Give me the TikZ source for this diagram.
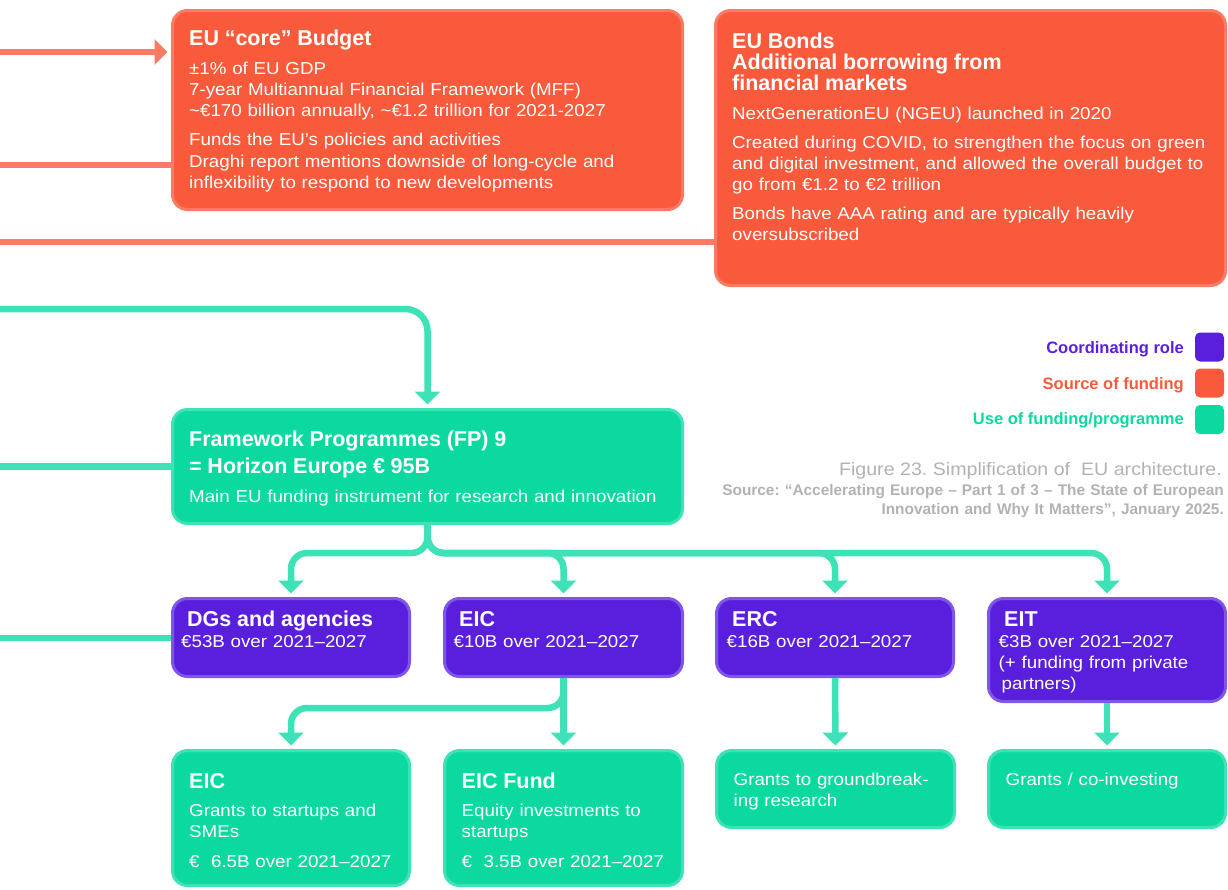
\documentclass[tikz,border=0pt]{standalone}
\usepackage{fontspec}
\setmainfont{Liberation Sans}
\newfontfamily\regfam{Liberation Sans}[FakeStretch=1.09]
\newfontfamily\boldfam{Liberation Sans}
\usetikzlibrary{arrows.meta}
\frenchspacing
\definecolor{orfill}{HTML}{F95A3B}
\definecolor{orline}{HTML}{FA7B63}
\definecolor{grfill}{HTML}{0CD9A0}
\definecolor{grline}{HTML}{3DE2B6}
\definecolor{pufill}{HTML}{5A1FDD}
\definecolor{puline}{HTML}{7F57E8}
\definecolor{capgray}{HTML}{B2B2B2}
\newcommand\boxbody{\regfam\fontsize{17.2}{21.2}\selectfont}
\newcommand\boxtitle{\boldfam\bfseries\fontsize{21.5}{21.2}\selectfont}
\begin{document}
\begin{tikzpicture}[x=1pt,y=-1pt,
  box/.style={rounded corners=15pt, line width=3pt, inner sep=0pt},
  obox/.style={box, fill=orfill, draw=orline},
  gbox/.style={box, fill=grfill, draw=grline},
  pbox/.style={box, fill=pufill, draw=puline},
  txt/.style={anchor=base west, inner sep=0pt, text width=520pt, align=left, text=white, font=\boxbody},
  oconn/.style={draw=orline, line width=6.5pt},
  gconn/.style={draw=grline, line width=6.5pt, rounded corners=16pt},
  arrowend/.style={-{Triangle[width=25pt,length=13pt]}, shorten >=3.5pt},
  swatch/.style={rounded corners=5pt, inner sep=0pt, minimum width=29pt, minimum height=29pt},
  legtxt/.style={anchor=base east, inner sep=0pt, font=\boldfam\bfseries\fontsize{16.5}{20}\selectfont}
]
\useasboundingbox (0,0) rectangle (1228,889);

% boxes
\node[obox, minimum width=510pt, minimum height=199pt] (core) at (427.5,110) {};
\node[obox, minimum width=510pt, minimum height=275pt] (bonds) at (970.5,148) {};
\node[gbox, minimum width=510pt, minimum height=114pt] (fp9) at (427.5,466.5) {};
\node[pbox, minimum width=237pt, minimum height=78pt] (dgs) at (291,637.5) {};
\node[pbox, minimum width=238pt, minimum height=78pt] (eic) at (563.5,637.5) {};
\node[pbox, minimum width=237pt, minimum height=78pt] (erc) at (835,637.5) {};
\node[pbox, minimum width=237pt, minimum height=103pt] (eit) at (1107,650) {};
\node[gbox, minimum width=237pt, minimum height=135pt] (eicb) at (291,818) {};
\node[gbox, minimum width=238pt, minimum height=135pt] (eicf) at (563.5,818) {};
\node[gbox, minimum width=238pt, minimum height=77pt] (ercb) at (835.5,789) {};
\node[gbox, minimum width=237pt, minimum height=77pt] (eitb) at (1107,789) {};

% texts
\node[txt] (coret) at (189,45) {{\boxtitle EU “core” Budget}\\[8.3pt]
±1\% of EU GDP\\
7-year Multiannual Financial Framework (MFF)\\
\textasciitilde€170 billion annually, \textasciitilde€1.2 trillion for 2021-2027\\[7.8pt]
Funds the EU’s policies and activities\\
Draghi report mentions downside of long-cycle and\\
inflexibility to respond to new developments};

\node[txt] (bondst) at (732,48) {{\boxtitle EU Bonds}\\
{\boxtitle Additional borrowing from}\\
{\boxtitle financial markets}\\[8.1pt]
NextGenerationEU (NGEU) launched in 2020\\[7.1pt]
Created during COVID, to strengthen the focus on green\\
and digital investment, and allowed the overall budget to\\
go from €1.2 to €2 trillion\\[7.6pt]
Bonds have AAA rating and are typically heavily\\
oversubscribed};

\node[txt] (fp9t) at (189,446.5) {{\boxtitle Framework Programmes (FP) 9}\\[6.1pt]
{\boxtitle = Horizon Europe € 95B}\\[7.5pt]
Main EU funding instrument for research and innovation};

\node[txt] (dgst) at (181,626) {\hspace*{6pt}{\boxtitle DGs and agencies}\\
€53B over 2021–2027};
\node[txt] (eict) at (453.5,626) {\hspace*{5.5pt}{\boxtitle EIC}\\
€10B over 2021–2027};
\node[txt] (erct) at (726.5,626) {\hspace*{5.5pt}{\boxtitle ERC}\\
€16B over 2021–2027};
\node[txt] (eitt) at (998.5,626) {\hspace*{5.5pt}{\boxtitle EIT}\\
€3B over 2021–2027\\
(+ funding from private\\
\hspace*{3pt}partners)};

\node[txt] (eicbt) at (189,788.3) {{\boxtitle EIC}\\[7.2pt]
Grants to startups and\\
SMEs\\[8.2pt]
€\ \ 6.5B over 2021–2027};
\node[txt] (eicft) at (461.5,788.3) {{\boxtitle EIC Fund}\\[7.2pt]
Equity investments to\\
startups\\[8.2pt]
€\ \ 3.5B over 2021–2027};
\node[txt] (ercbt) at (733.5,785) {Grants to groundbreak-\\
ing research};
\node[txt] (eitbt) at (1005.5,785) {Grants / co-investing};

% legend
\node[swatch, fill=pufill] (sw1) at (1209.5,347) {};
\node[swatch, fill=orfill] (sw2) at (1209.5,383) {};
\node[swatch, fill=grfill] (sw3) at (1209.5,419.5) {};
\node[legtxt, text=pufill] (lg1) at (1184,353.3) {Coordinating role};
\node[legtxt, text=orfill] (lg2) at (1184,389.3) {Source of funding};
\node[legtxt, text=grfill] (lg3) at (1184,424.5) {Use of funding/programme};

% caption
\node[anchor=base east, inner sep=0pt, text=capgray, font=\regfam\fontsize{18}{21}\selectfont] (cap) at (1222,475) {Figure 23. Simplification of\ \ EU architecture.};
\node[anchor=base east, inner sep=0pt, text width=520pt, align=right, text=capgray, font=\boldfam\bfseries\fontsize{15.4}{19.7}\selectfont] (src) at (1224,495) {Source: “Accelerating Europe – Part 1 of 3 – The State of European\\
Innovation and Why It Matters”, January 2025.};

% free ends
\coordinate (s1) at (0,52);
\coordinate (s2) at (0,165);
\coordinate (s3) at (0,242);
\coordinate (g1) at (0,309);
\coordinate (g2) at (0,466.5);
\coordinate (g3) at (0,638);
\coordinate (hb) at (0,553);
\coordinate (hb2) at (0,708);

% orange connectors
\draw[oconn, arrowend] (s1) -- (s1 -| core.west);
\draw[oconn] (s2) -- (s2 -| core.west);
\draw[oconn] (s3) -- (s3 -| bonds.west);

% green connectors
\draw[gconn, arrowend, rounded corners=22pt] (g1) -| (fp9.north);
\draw[gconn] (g2) -- (g2 -| fp9.west);
\draw[gconn] (g3) -- (g3 -| dgs.west);
\draw[gconn, arrowend] (fp9.south) -- (fp9.south |- hb) -| (dgs.north);
\draw[gconn, arrowend] (fp9.south) -- (fp9.south |- hb) -| (eic.north);
\draw[gconn, arrowend] (fp9.south) -- (fp9.south |- hb) -| (erc.north);
\draw[gconn, arrowend] (fp9.south) -- (fp9.south |- hb) -| (eit.north);
\draw[gconn, arrowend] (eic.south) -- (eic.south |- hb2) -| (eicb.north);
\draw[gconn, arrowend] (eic.south) -- (eicf.north);
\draw[gconn, arrowend] (erc.south) -- (ercb.north);
\draw[gconn, arrowend] (eit.south) -- (eitb.north);
\end{tikzpicture}
\end{document}
